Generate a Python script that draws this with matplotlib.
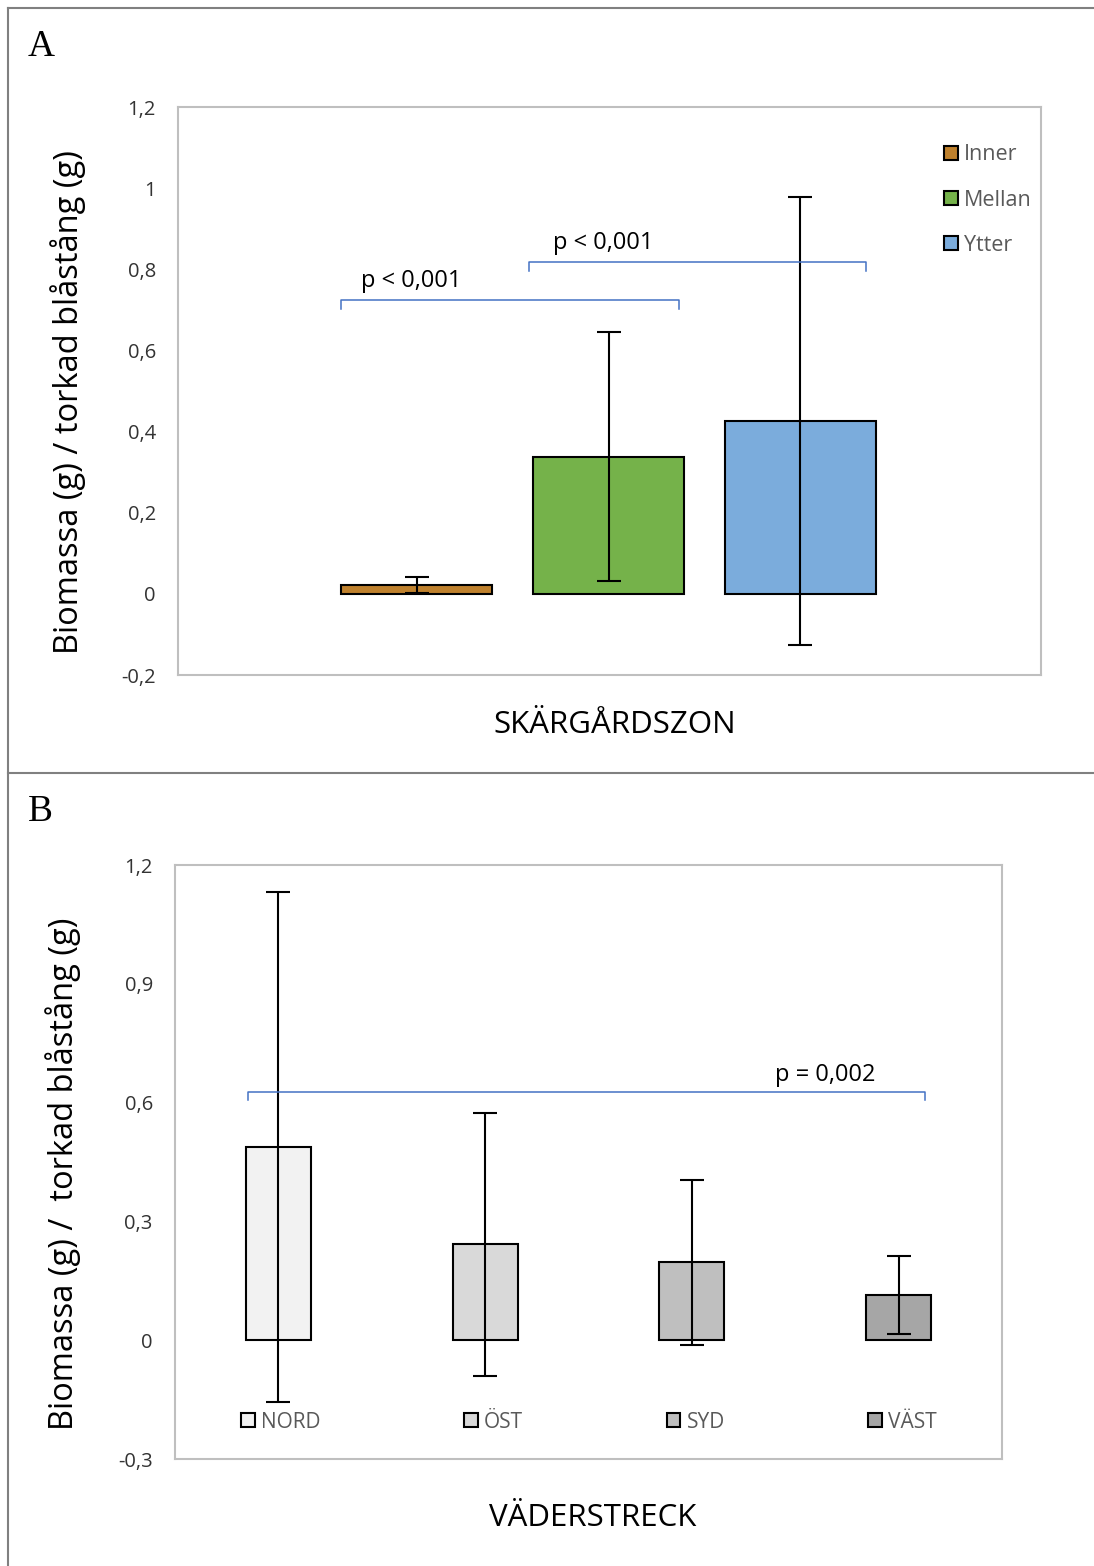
"""
Biomassa per torkad blåstång: A = skärgårdszon, B = väderstreck
"""
import matplotlib.pyplot as plt
from matplotlib.patches import Patch

plt.rcParams['font.family'] = ['Open Sans', 'DejaVu Sans']

# Panel A data
zones = ['Inner', 'Mellan', 'Ytter']
zone_means = [0.022, 0.338, 0.426]
zone_err = [0.020, 0.307, 0.551]
zone_colors = ['#BF812D', '#75B24A', '#7BACDC']

# Panel B data
directions = ['NORD', 'ÖST', 'SYD', 'VÄST']
dir_means = [0.487, 0.242, 0.197, 0.114]
dir_err = [0.644, 0.333, 0.208, 0.098]
dir_colors = ['#F2F2F2', '#D9D9D9', '#BFBFBF', '#A6A6A6']

yticks_a = [-0.2, 0, 0.2, 0.4, 0.6, 0.8, 1.0, 1.2]
yticks_b = [-0.3, 0, 0.3, 0.6, 0.9, 1.2]

W, H = 1094, 1566
fig = plt.figure(figsize=(W / 100, H / 100), dpi=100)


def px_axes(x0, y0, x1, y1):
    return fig.add_axes([x0 / W, 1 - y1 / H, (x1 - x0) / W, (y1 - y0) / H])


def fmt(v):
    s = f'{v:.1f}'.replace('.', ',')
    return '0' if s in ('0,0', '-0,0') else ('1' if s == '1,0' else s)


def style_axes(ax, ticks):
    ax.set_yticks(ticks)
    ax.set_yticklabels([fmt(t) for t in ticks], fontsize=14.5, color='#333333')
    ax.tick_params(axis='y', length=0, pad=16)
    ax.set_xticks([])
    for sp in ax.spines.values():
        sp.set_color('#BFBFBF')
        sp.set_linewidth(1.5)


def bracket(ax, x0, x1, y, drop, text, tx):
    ax.plot([x0, x0, x1, x1], [y - drop, y, y, y - drop], color='#4472C4', lw=1.1)
    ax.text(tx, y + drop * 0.7, text, fontsize=17, ha='left', va='bottom', color='black')


# outer frame lines
fig.add_artist(plt.Line2D([8 / W, 8 / W], [0, 1 - 8 / H], color='#808080', lw=1.5))
fig.add_artist(plt.Line2D([8 / W, 1], [1 - 8 / H, 1 - 8 / H], color='#808080', lw=1.5))
fig.add_artist(plt.Line2D([8 / W, 1], [1 - 773 / H, 1 - 773 / H], color='#808080', lw=1.5))

err_kw = dict(ecolor='black', elinewidth=1.5, capsize=8.5, capthick=1.5)

# ---- Panel A ----
ax = px_axes(178, 107, 1041, 675)
xa = [0, 1, 2]
ax.bar(xa, zone_means, width=0.786, color=zone_colors, edgecolor='black',
       linewidth=1.5, yerr=zone_err, error_kw=err_kw)
ax.set_xlim(-1.245, 3.255)
ax.set_ylim(-0.2, 1.2)
style_axes(ax, yticks_a)
bracket(ax, -0.396, 1.365, 0.725, 0.023, 'p < 0,001', -0.29)
bracket(ax, 0.583, 2.344, 0.818, 0.023, 'p < 0,001', 0.71)
handles = [Patch(facecolor=c, edgecolor='black', linewidth=1.5) for c in zone_colors]
ax.legend(handles, zones, loc='upper left', bbox_to_anchor=((933 - 178) / 863, 0.953),
          frameon=False, fontsize=15.5, labelspacing=1.12, handlelength=0.65,
          handleheight=0.65, handletextpad=0.3, labelcolor='#595959', borderpad=0)
fig.text(615 / W, 1 - 725 / H, 'SKÄRGÅRDSZON', fontsize=22.5, ha='center', va='center')
fig.text(68 / W, 1 - 402 / H, 'Biomassa (g) / torkad blåstång (g)', rotation=90,
         fontsize=23.5, ha='center', va='center')
fig.text(28 / W, 1 - 47 / H, 'A', family='Liberation Serif', fontsize=27,
         ha='left', va='center')

# ---- Panel B ----
ax = px_axes(175, 865, 1002, 1459)
xb = [0, 1, 2, 3]
ax.bar(xb, dir_means, width=0.314, color=dir_colors, edgecolor='black',
       linewidth=1.5, yerr=dir_err, error_kw=err_kw)
ax.set_xlim(-0.5, 3.5)
ax.set_ylim(-0.3, 1.2)
style_axes(ax, yticks_b)
bracket(ax, -0.148, 3.128, 0.626, 0.02, 'p = 0,002', 2.40)
handles = [Patch(facecolor=c, edgecolor='black', linewidth=1.5) for c in dir_colors]
ax.legend(handles, directions, loc='center', bbox_to_anchor=((589 - 175) / 827, 37 / 594),
          frameon=False, ncol=4, fontsize=15, columnspacing=6.9, handlelength=0.65,
          handleheight=0.65, handletextpad=0.3, labelcolor='#595959', borderpad=0)
fig.text(593 / W, 1 - 1518 / H, 'VÄDERSTRECK', fontsize=22.5, ha='center', va='center')
fig.text(63 / W, 1 - 1174 / H, 'Biomassa (g) /  torkad blåstång (g)', rotation=90,
         fontsize=23.5, ha='center', va='center')
fig.text(28 / W, 1 - 812 / H, 'B', family='Liberation Serif', fontsize=27,
         ha='left', va='center')

plt.savefig('out.png', dpi=100)
plt.close()
